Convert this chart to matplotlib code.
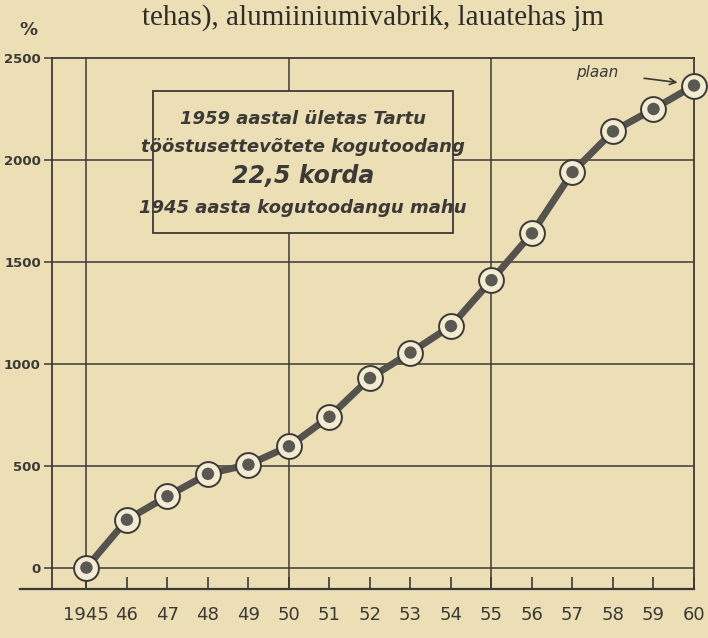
import matplotlib.pyplot as plt
import matplotlib.patches as patches

# ------------------------------
# Data
# ------------------------------
years = [1945, 1946, 1947, 1948, 1949, 1950, 1951, 1952,
         1953, 1954, 1955, 1956, 1957, 1958, 1959, 1960]
values = [0, 235, 350, 460, 505, 595, 740, 930,
          1055, 1185, 1410, 1640, 1940, 2140, 2250, 2365]
year_labels = ["1945", "46", "47", "48", "49", "50", "51", "52",
               "53", "54", "55", "56", "57", "58", "59", "60"]
y_ticks = [0, 500, 1000, 1500, 2000, 2500]

paper = "#ecdfb6"
ink = "#3b3a36"

fig = plt.figure(figsize=(7.08, 6.38), dpi=100, facecolor=paper)
ax = fig.add_axes([52 / 708, 49 / 638, 642 / 708, 531 / 638])
ax.set_facecolor(paper)
ax.set_xlim(1944.15, 1960)
ax.set_ylim(-105, 2500)

# frame
for s in ax.spines.values():
    s.set_color(ink)
    s.set_linewidth(1.3)

# grid lines
for yv in [0, 500, 1000, 1500, 2000]:
    ax.axhline(yv, color=ink, lw=1.1, zorder=1)
for xv in [1945, 1950, 1955]:
    ax.axvline(xv, color=ink, lw=1.1, zorder=1)

# bottom axis line sticks out on the left
ax.plot([-0.05, 1], [0, 0], transform=ax.transAxes, color=ink,
        lw=1.6, clip_on=False)

# ticks
ax.set_xticks(years)
ax.set_xticklabels(year_labels, fontsize=13, color=ink)
ax.tick_params(axis="x", direction="in", length=9, width=1.2,
               color=ink, pad=12)
ax.set_yticks(y_ticks)
ax.set_yticklabels([str(v) for v in y_ticks], fontsize=9.5,
                   fontweight="bold", color=ink)
ax.tick_params(axis="y", direction="out", length=6, width=1.1,
               color=ink, pad=2)

# line with ringed markers
ax.plot(years, values, color="#55534d", lw=5, zorder=3,
        solid_capstyle="round")
ax.scatter(years, values, s=320, facecolor="#f3ecd3", edgecolor=ink,
           linewidth=1.4, zorder=4, clip_on=False)
ax.scatter(years, values, s=80, facecolor="#5a5852", edgecolor="none",
           zorder=5, clip_on=False)

# text box
box = patches.Rectangle((1946.65, 1640), 7.4, 700, facecolor=paper,
                        edgecolor=ink, lw=1.3, zorder=2)
ax.add_patch(box)
cx = 1946.65 + 3.7
ax.text(cx, 2200, "1959 aastal ületas Tartu", ha="center", va="center",
        fontsize=13, style="italic", fontweight="semibold", color=ink, zorder=3)
ax.text(cx, 2065, "tööstusettevõtete kogutoodang", ha="center", va="center",
        fontsize=13, style="italic", fontweight="semibold", color=ink, zorder=3)
ax.text(cx, 1920, "22,5 korda", ha="center", va="center",
        fontsize=17, style="italic", fontweight="semibold", color=ink, zorder=3)
ax.text(cx, 1765, "1945 aasta kogutoodangu mahu", ha="center", va="center",
        fontsize=13, style="italic", fontweight="semibold", color=ink, zorder=3)

# plan arrow
ax.annotate("plaan", xy=(1959.9, 2372), xytext=(1957.6, 2430),
            fontsize=11, style="italic", color=ink, ha="center", va="center",
            arrowprops=dict(arrowstyle="->", color=ink, lw=1.2,
                            shrinkA=17, shrinkB=9))

# percent sign and page text
fig.text(0.028, 0.945, "%", fontsize=13, fontweight="bold", color=ink)
fig.text(0.2, 0.962, "tehas), alumiiniumivabrik, lauatehas jm",
         fontsize=21, family="Liberation Serif", color="#2e2d2a")

fig.savefig("out.png", dpi=100, facecolor=paper)
